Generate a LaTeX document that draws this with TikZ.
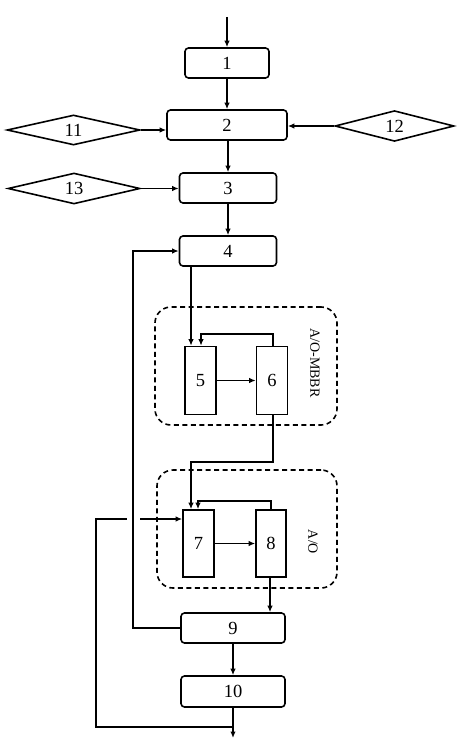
\documentclass[tikz,border=0pt]{standalone}
\usepackage{fontspec}
\setmainfont{Liberation Serif}
\usetikzlibrary{shapes.geometric,arrows.meta,calc}
\begin{document}
\begin{tikzpicture}[x=1pt,y=-1pt,
  line width=1.6pt,
  arr/.style={-{Latex[length=6.5pt,width=5.5pt]}},
  rbox/.style={draw,rounded corners=3.5pt,inner sep=0pt,font=\fontsize{18.5}{20}\selectfont},
  tank/.style={draw,inner sep=0pt,minimum width=31pt,minimum height=68pt,font=\fontsize{18.5}{20}\selectfont},
  dia/.style={draw,diamond,inner sep=0pt,minimum height=30pt,font=\fontsize{18.5}{20}\selectfont},
  grp/.style={draw,dashed,dash pattern=on 5pt off 3.5pt,rounded corners=16pt,inner sep=0pt},
  lbl/.style={rotate=-90,font=\fontsize{14}{16}\selectfont}]
\useasboundingbox (0,0) rectangle (466,749);
% groups
\node[grp,minimum width=182pt,minimum height=118pt] (g1) at (246,366) {};
\node[grp,minimum width=180pt,minimum height=118pt] (g2) at (247,529) {};
\node[lbl] (l1) at (315,363) {A/O-MBBR};
\node[lbl] (l2) at (313,542) {A/O};
% main boxes
\node[rbox,minimum width=84pt,minimum height=30pt] (b1) at (227,63) {1};
\node[rbox,minimum width=120pt,minimum height=30pt] (b2) at (227,125) {2};
\node[rbox,minimum width=97pt,minimum height=30pt] (b3) at (228,188) {3};
\node[rbox,minimum width=97pt,minimum height=30pt] (b4) at (228,251) {4};
\node[tank] (b5) at (200.5,380.5) {5};
\node[tank] (b6) at (272,380.5) {6};
\node[tank,minimum height=67pt] (b7) at (198.5,543.5) {7};
\node[tank,minimum height=67pt,minimum width=30pt] (b8) at (271,543.5) {8};
\node[rbox,minimum width=104pt,minimum height=30pt] (b9) at (233,628) {9};
\node[rbox,minimum width=104pt,minimum height=31pt] (b10) at (233,691.5) {10};
% diamonds
\node[dia,minimum width=133pt] (d11) at (73.5,130) {11};
\node[dia,minimum width=119pt] (d12) at (394.5,126) {12};
\node[dia,minimum width=132pt,minimum height=29pt] (d13) at (74,188.5) {13};
% coordinates
\coordinate (in) at (227,17);
\coordinate (out) at (233,738);
\coordinate (x191) at (191,0);
\coordinate (x201) at (201,0);
\coordinate (x273) at (273,0);
\coordinate (y334) at (0,334);
\coordinate (y462) at (0,462);
\coordinate (x198) at (198,0);
\coordinate (x271) at (271,0);
\coordinate (x270) at (270,0);
\coordinate (y501) at (0,501);
\coordinate (x133) at (133,0);
\coordinate (x96) at (96,0);
\coordinate (y519) at (0,519);
\coordinate (y727) at (0,727);
\coordinate (gapL) at (127,519);
\coordinate (gapR) at (140,519);
% connectors
\draw[arr] (in) -- (b1.north);
\draw[arr] (b1) -- (b2);
\draw[arr] (b2.south -| b3.north) -- (b3.north);
\draw[arr] (b3) -- (b4);
\draw[arr] (d11.east) -- (d11.east -| b2.west);
\draw[arr] (d12.west) -- (d12.west -| b2.east);
\draw[arr] (d13.east) -- (d13.east -| b3.west);
\draw[arr] (b4.south -| x191) -- (b5.north -| x191);
\draw[arr] (b6.north -| x273) -- (x273 |- y334) -- (x201 |- y334) -- (b5.north -| x201);
\draw[arr] (b5.east |- b5) -- (b6.west |- b5);
\draw[arr] (b6.south -| x273) -- (x273 |- y462) -- (x191 |- y462) -- (b7.north -| x191);
\draw[arr] (b8.north -| x271) -- (x271 |- y501) -- (x198 |- y501) -- (b7.north -| x198);
\draw[arr] (b7.east |- b7) -- (b8.west |- b7);
\draw[arr] (b8.south -| x270) -- (b9.north -| x270);
\draw[arr] (b9.west) -- (x133 |- b9) -- (x133 |- b4) -- (b4.west);
\draw[arr] (b9.south -| b10.north) -- (b10.north);
\draw[arr] (b10.south) -- (out);
\draw (b10.south |- y727) -- (x96 |- y727) -- (x96 |- y519) -- (gapL);
\draw[arr] (gapR) -- (b7.west |- gapR);
\end{tikzpicture}
\end{document}
